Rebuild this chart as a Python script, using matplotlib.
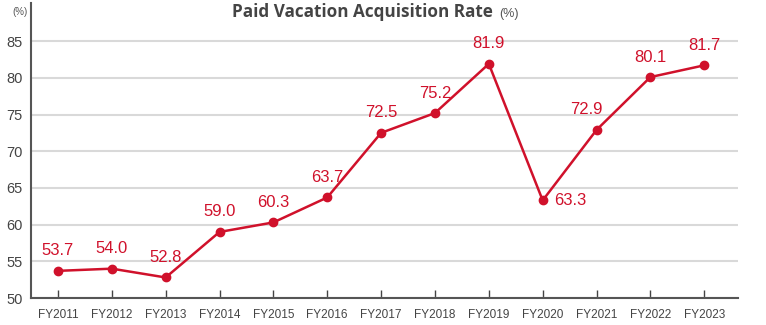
import matplotlib
matplotlib.use("Agg")
import matplotlib.pyplot as plt

years = ["FY2011", "FY2012", "FY2013", "FY2014", "FY2015", "FY2016", "FY2017",
         "FY2018", "FY2019", "FY2020", "FY2021", "FY2022", "FY2023"]
rates = [53.7, 54.0, 52.8, 59.0, 60.3, 63.7, 72.5, 75.2, 81.9, 63.3, 72.9, 80.1, 81.7]
yticks = [50, 55, 60, 65, 70, 75, 80, 85]

RED = "#d0112b"
plt.rcParams["font.family"] = ["Liberation Sans", "DejaVu Sans"]

fig = plt.figure(figsize=(7.66, 3.25), dpi=100)
ax = fig.add_axes([0.0405, 0.083, 0.9225, 0.908])

x = list(range(len(years)))
ax.plot(x, rates, color=RED, lw=1.8, marker="o", ms=6, zorder=3)

for i, v in enumerate(rates):
    dx, dy, ha = 0, 9, "center"
    if years[i] == "FY2020":
        dx, dy, ha = 8, 0, "left"
    elif years[i] == "FY2021":
        dx = -7
    ax.annotate(f"{v:.1f}", (i, v), xytext=(dx, dy), textcoords="offset points",
                ha=ha, va="center" if dy == 0 else "bottom",
                color=RED, fontsize=12)

ax.set_xlim(-0.5, 12.62)
ax.set_ylim(50, 90.2)
ax.set_xticks(x)
ax.set_xticklabels(years, fontsize=8.5, color="#444444")
ax.set_yticks(yticks)
ax.set_yticklabels([str(t) for t in yticks], fontsize=10.5, color="#444444")
ax.tick_params(axis="x", direction="in", length=6, width=1, color="#444444", pad=8)
ax.tick_params(axis="y", length=0, pad=6)
ax.grid(axis="y", color="#d9d9d9", lw=1.5)
ax.set_axisbelow(True)
for s in ["top", "right"]:
    ax.spines[s].set_visible(False)
for s in ["left", "bottom"]:
    ax.spines[s].set_color("#555555")
    ax.spines[s].set_linewidth(1.5)

fig.text(0.0157, 0.962, "(%)", fontsize=7, color="#555555", va="center")
fig.text(0.303, 0.962, "Paid Vacation Acquisition Rate", fontsize=12.3,
         fontweight="bold", color="#444444", va="center", family="Open Sans")
fig.text(0.652, 0.958, "(%)", fontsize=9, color="#555555", va="center")

fig.savefig("out.png", dpi=100)
